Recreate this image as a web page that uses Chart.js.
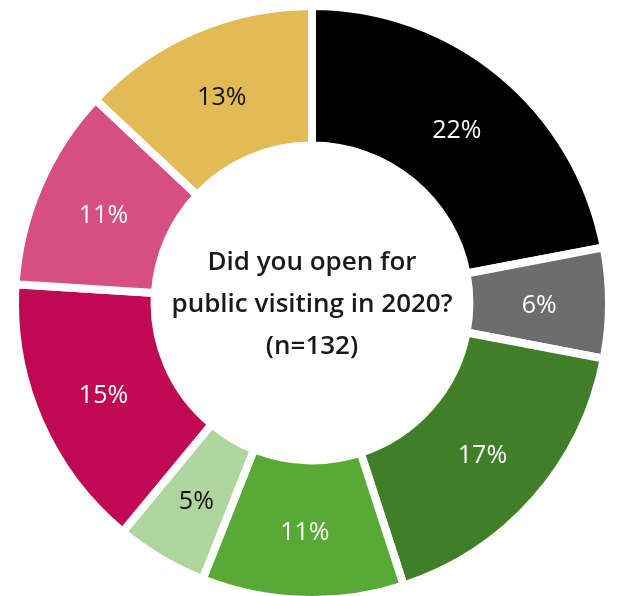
<!DOCTYPE html>
<html>
<head>
<meta charset="utf-8">
<script src="https://cdn.jsdelivr.net/npm/chart.js@4/dist/chart.umd.min.js"></script>
<style>
  html, body { margin: 0; padding: 0; background: #ffffff; width: 621px; height: 596px; overflow: hidden; }
  #wrap { position: absolute; left: 11px; top: 2px; width: 602px; height: 602px; }
</style>
</head>
<body>
<div id="wrap"><canvas id="myChart" width="602" height="602"></canvas></div>
<script>
var answers = ["Yes, all year", "Yes, briefly", "Yes, part of year", "Yes, by appointment", "Yes, other", "No, closed", "No, never open", "Not sure"];
var shares = [22, 6, 17, 11, 5, 15, 11, 13];
var colors = ["#000000", "#6d6d6d", "#407f27", "#59a936", "#b0d49e", "#c00853", "#d64e84", "#e2bb56"];
var labelColors = ["#ffffff", "#ffffff", "#ffffff", "#ffffff", "#111111", "#ffffff", "#ffffff", "#111111"];
var centerLines = ["Did you open for", "public visiting in 2020?", "(n=132)"];

window.onload = function()
{
    var ctx = document.getElementById("myChart").getContext("2d");

    // percentage text in the middle of each ring segment
    var sliceLabels =
    {
        id: "sliceLabels",
        afterDatasetsDraw: function(chart)
        {
            var c = chart.ctx;
            var meta = chart.getDatasetMeta(0);
            c.save();
            c.font = "500 25px 'Open Sans'";
            c.textAlign = "center";
            c.textBaseline = "middle";
            meta.data.forEach(function(arc, i)
            {
                var p = arc.getCenterPoint();
                c.fillStyle = labelColors[i];
                c.fillText(shares[i] + "%", p.x, p.y + 3);
            });
            c.restore();
        }
    };

    // question text in the hole
    var centerText =
    {
        id: "centerText",
        afterDraw: function(chart)
        {
            var c = chart.ctx;
            var meta = chart.getDatasetMeta(0);
            var x = meta.data[0].x;
            var y = meta.data[0].y;
            c.save();
            c.font = "600 26px 'Open Sans'";
            c.fillStyle = "#1a1a1a";
            c.textAlign = "center";
            c.textBaseline = "middle";
            for (var i = 0; i < centerLines.length; i++)
            {
                c.fillText(centerLines[i], x, y - 40 + i * 42);
            }
            c.restore();
        }
    };

    var myChart = new Chart(ctx,
    {
        type: 'doughnut',
        data:
        {
            labels: answers,
            datasets:
            [{
                data: shares,
                backgroundColor: colors,
                borderColor: '#ffffff',
                borderWidth: 8,
                hoverOffset: 0
            }]
        },
        options:
        {
            responsive: false,
            animation: false,
            cutout: '53%',
            layout: { padding: 0 },
            plugins:
            {
                legend: { display: false },
                tooltip: { enabled: false }
            }
        },
        plugins: [sliceLabels, centerText]
    });
};
</script>
</body>
</html>
